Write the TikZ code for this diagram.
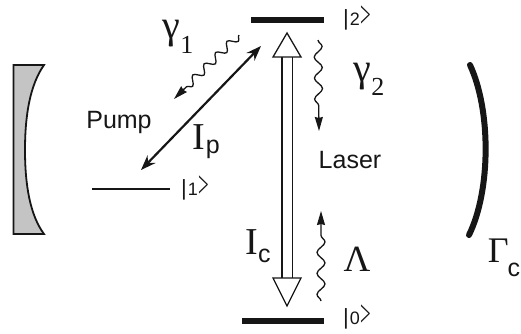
\documentclass[tikz,border=0pt]{standalone}
\usepackage{graphicx}
\usepackage{fontspec}
\setmainfont{Liberation Sans}
\newfontfamily\symfont{Liberation Serif}
\usepackage{tikz}
\usetikzlibrary{arrows.meta, decorations.pathmorphing}
\definecolor{ink}{HTML}{161616}
\definecolor{mirrorc}{HTML}{C4C4C4}
\newcommand{\ketlabel}[1]{\fontsize{18}{18}\selectfont{\fontsize{22}{22}\selectfont|}\hspace{1pt}#1\hspace{0.5pt}\raisebox{-1.5pt}{\scalebox{1.05}[2.1]{\symfont >}}}
\newcommand{\glabel}[2]{{\fontsize{40}{42}\symfont γ}{\fontsize{26}{28}\symfont\raisebox{-#1}{#2}}}
\newcommand{\ilabel}[5]{{\fontsize{#5}{40}\symfont #1}\hspace{#3}{\fontsize{25}{28}\selectfont\raisebox{-#4}{#2}}}
\tikzset{
  level/.style={ink, line width=6.5pt},
  pumpline/.style={ink, line width=2.2pt, {Stealth[length=15pt,width=11pt]}-{Stealth[length=15pt,width=11pt]}},
  wiggle/.style={ink, line width=1.3pt, -{Stealth[length=14pt,width=8pt,inset=1pt]}, decorate,
    decoration={snake, amplitude=4pt, segment length=#1, post length=15pt}},
  hollow/.style={ink, line width=1.3pt, line join=miter},
  txt/.style={font=\fontsize{25}{27}\selectfont, text=ink, inner sep=0pt},
  ket/.style={text=ink, inner sep=0pt}
}

\begin{document}
\begin{tikzpicture}[x=1pt, y=-1pt]
  \useasboundingbox (0,0) rectangle (521,333);
  % left mirror
  \draw[ink, line width=1.8pt, fill=mirrorc] (13.5,65) -- (44,65)
    .. controls (30,85) and (25,115) .. (25,150)
    .. controls (25,185) and (30,215) .. (44,234) -- (13.5,234) -- cycle;
  % right mirror
  \draw[ink, line width=6pt, line cap=round] (470,65) .. controls (491,110) and (491,190) .. (469,235);
  % levels
  \coordinate (twoL) at (251,20);
  \coordinate (twoR) at (324,20);
  \coordinate (oneL) at (92,189);
  \coordinate (oneR) at (170,189);
  \coordinate (zeroL) at (242,321);
  \coordinate (zeroR) at (324,321);
  \draw[level] (twoL) -- (twoR);
  \draw[ink, line width=1.3pt] (oneL) -- (oneR);
  \draw[level] (zeroL) -- (zeroR);
  \node[ket] (ktwo) at (357,18) {\ketlabel{2}};
  \node[ket] (kone) at (195,188) {\ketlabel{1}};
  \node[ket] (kzero) at (357,317) {\ketlabel{0}};
  % laser transition
  \coordinate (tipT) at (287,33);
  \coordinate (tipB) at (287,306);
  \draw[hollow] (282,57) -- (282,278) (292.5,57) -- (292.5,278);
  \draw[hollow] (tipT) -- (301,57) -- (273,57) -- cycle;
  \draw[hollow] (tipB) -- (301,278) -- (273,278) -- cycle;
  % pump transition
  \coordinate (pumpT) at (261,46);
  \coordinate (pumpB) at (141,170);
  \draw[pumpline] (pumpB) -- (pumpT);
  % decay and feed
  \coordinate (gamoneS) at (239,35);
  \coordinate (gamoneE) at (174,99);
  \coordinate (gamtwoS) at (318,40);
  \coordinate (gamtwoE) at (319,131);
  \coordinate (lamS) at (321,301);
  \coordinate (lamE) at (321,211);
  \draw[wiggle=16pt] (gamoneS) -- (gamoneE);
  \draw[wiggle=21pt] (gamtwoS) -- (gamtwoE);
  \draw[wiggle=21pt] (lamS) -- (lamE);
  % labels
  \node[txt] (pump) at (119,122) {Pump};
  \node[txt] (laser) at (350,160) {Laser};
  \node[ket] (gamone) at (178,37) {\glabel{15pt}{1}};
  \node[ket] (gamtwo) at (369,79) {\glabel{14pt}{2}};
  \node[ket] (ip) at (206,142) {\ilabel{I}{p}{1pt}{4pt}{38}};
  \node[ket] (ic) at (258,246) {\ilabel{I}{c}{0pt}{8pt}{38}};
  \node[ket] (lam) at (357,259) {{\fontsize{37}{38}\symfont Λ}};
  \node[ket] (gamc) at (504,258) {\ilabel{Γ}{c}{-1pt}{14pt}{36}};
\end{tikzpicture}
\end{document}
